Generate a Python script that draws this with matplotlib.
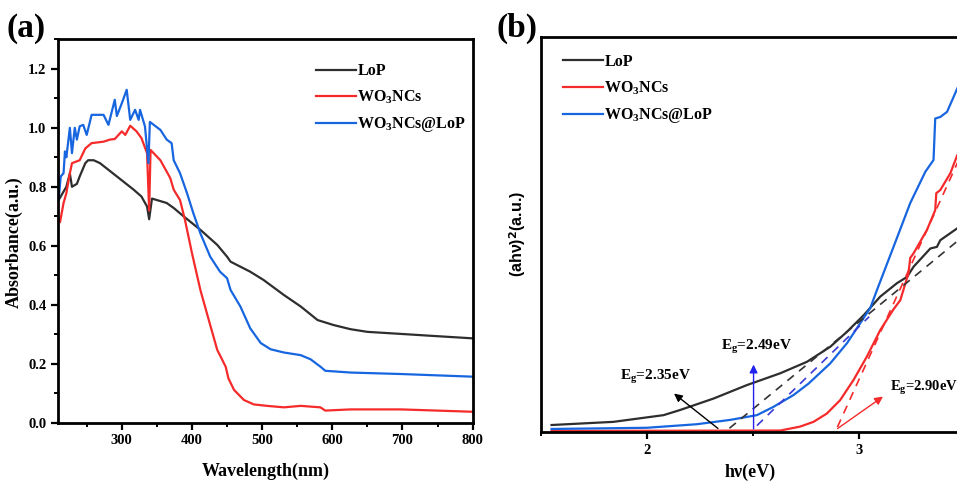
import matplotlib
matplotlib.use("Agg")
import matplotlib.pyplot as plt
from matplotlib.ticker import MultipleLocator
import numpy as np

plt.rcParams['font.family'] = ['Liberation Serif', 'DejaVu Serif']
plt.rcParams['font.weight'] = 'bold'
plt.rcParams['mathtext.fontset'] = 'custom'
plt.rcParams['mathtext.rm'] = 'Liberation Serif:bold'
plt.rcParams['mathtext.it'] = 'Liberation Serif:bold'
plt.rcParams['mathtext.bf'] = 'Liberation Serif:bold'

# ---- panel (a): UV-vis absorbance ----
lop_wl = [210, 221, 226, 229, 236, 240, 248, 252, 260, 269, 293, 317, 328, 336, 339, 343,
          364, 374, 388, 412, 436, 450, 455, 483, 502, 531, 555, 579, 602, 626, 650, 698, 745, 800]
lop_abs = [0.755, 0.80, 0.845, 0.80, 0.81, 0.835, 0.88, 0.89, 0.89, 0.88, 0.835, 0.79, 0.767, 0.733, 0.69, 0.76,
           0.745, 0.728, 0.70, 0.654, 0.603, 0.563, 0.546, 0.512, 0.484, 0.433, 0.394, 0.348, 0.331, 0.317, 0.308, 0.301, 0.294, 0.286]

wo3_wl = [210, 212, 217, 221, 226, 229, 240, 248, 257, 274, 283, 290, 300, 305, 312, 321, 328, 336, 339, 341,
          355, 369, 374, 383, 390, 400, 412, 424, 436, 448, 452, 460, 474, 488, 507, 531, 555, 583, 590, 626, 698, 800]
wo3_abs = [0.688, 0.68, 0.745, 0.778, 0.846, 0.88, 0.89, 0.93, 0.948, 0.953, 0.96, 0.962, 0.988, 0.976, 1.007, 0.988, 0.965, 0.914, 0.72, 0.925,
           0.89, 0.83, 0.79, 0.755, 0.688, 0.575, 0.45, 0.348, 0.247, 0.19, 0.15, 0.111, 0.077, 0.062, 0.057, 0.052, 0.057, 0.052, 0.041, 0.045, 0.045, 0.037]

comp_wl = [210, 213, 217, 219, 221, 226, 229, 233, 236, 240, 245, 250, 257, 274, 281, 290, 293, 300, 307, 312,
           319, 324, 326, 333, 338, 340, 355, 364, 371, 374, 383, 393, 402, 412, 426, 440, 450, 455, 469, 483,
           498, 512, 531, 555, 569, 583, 590, 626, 698, 800]
comp_abs = [0.755, 0.835, 0.846, 0.92, 0.90, 1.0, 0.914, 1.0, 0.96, 1.005, 1.01, 0.976, 1.044, 1.044, 1.01, 1.095, 1.04, 1.083, 1.129, 1.027,
            1.061, 1.027, 1.061, 1.005, 0.88, 1.02, 0.993, 0.96, 0.948, 0.89, 0.846, 0.778, 0.71, 0.642, 0.563, 0.512, 0.49, 0.45, 0.394, 0.32,
            0.27, 0.249, 0.238, 0.229, 0.215, 0.19, 0.176, 0.17, 0.165, 0.156]

# ---- panel (b): Tauc plot ----
lop_ev = [1.55, 1.842, 2.079, 2.157, 2.315, 2.472, 2.63, 2.756, 2.866, 2.945, 3.024, 3.102, 3.181, 3.229, 3.26, 3.339, 3.37, 3.386, 3.466]
lop_tauc = [1.7, 2.5, 4.2, 5.5, 8.4, 11.8, 14.8, 17.7, 21.5, 25.3, 29.5, 34.2, 37.6, 39.2, 41.8, 46.4, 46.8, 48.5, 51.5]

wo3_ev = [1.55, 2.63, 2.724, 2.787, 2.85, 2.913, 2.976, 3.039, 3.102, 3.165, 3.197, 3.236, 3.244, 3.26, 3.323,
          3.362, 3.367, 3.386, 3.433, 3.466]
wo3_tauc = [0.2, 0.3, 1.3, 2.5, 4.6, 8.0, 13.1, 19.0, 25.7, 31.0, 33.3, 40.2, 44.0, 45.2, 51.1,
            56.1, 60.4, 61.2, 65.4, 70.0]

comp_ev = [1.55, 2.0, 2.236, 2.394, 2.52, 2.598, 2.693, 2.764, 2.866, 2.945, 3.055, 3.087, 3.165, 3.244, 3.315,
           3.354, 3.362, 3.386, 3.418, 3.466]
comp_tauc = [0.7, 1.0, 1.9, 3.0, 4.2, 6.3, 9.3, 12.2, 17.3, 22.4, 31.3, 35.9, 46.8, 57.9, 65.8,
             68.8, 79.3, 79.7, 81.0, 86.9]

# tangent lines: (Eg intercept, slope, x start, x end)
fit_lop = (2.37, 44, 2.39, 3.6)
fit_comp = (2.49, 52, 2.52, 3.05)
fit_wo3 = (2.89, 118, 2.90, 3.6)

c_k = '#2e2e2e'
c_r = '#f52a2a'
c_b = '#1766e0'

fig = plt.figure(figsize=(9.57, 4.84), dpi=100)

ax1 = fig.add_axes([0.0609, 0.1267, 0.433, 0.792])
ax1.plot(lop_wl, lop_abs, color=c_k, lw=1.6, label='LoP')
ax1.plot(wo3_wl, wo3_abs, color=c_r, lw=1.6, label='WO$_3$NCs')
ax1.plot(comp_wl, comp_abs, color=c_b, lw=1.6, label='WO$_3$NCs@LoP')
ax1.set_xlim(209.5, 800)
ax1.set_ylim(0, 1.3)
ax1.xaxis.set_major_locator(MultipleLocator(100))
ax1.xaxis.set_minor_locator(MultipleLocator(50))
ax1.yaxis.set_minor_locator(MultipleLocator(0.1))
ax1.set_yticks(np.arange(0, 1.21, 0.2))
ax1.set_yticklabels(['%.1f' % v for v in np.arange(0, 1.21, 0.2)])
ax1.set_xlabel('Wavelength(nm)', fontsize=13, fontweight='bold', va='top')
ax1.xaxis.set_label_coords(0.5, -0.105)
ax1.set_ylabel('Absorbance(a.u.)', fontsize=13, fontweight='bold')
ax1.yaxis.set_label_coords(-0.085, 0.47)
ax1.legend(loc='center left', bbox_to_anchor=(0.602, 0.845), frameon=False, fontsize=11.5,
           handlelength=2.5, handletextpad=0.1, borderpad=0, labelspacing=0.58)
ax1.text(-0.125, 1.006, '(a)', transform=ax1.transAxes, fontsize=24, fontweight='bold', va='baseline', ha='left')

ax2 = fig.add_axes([0.5653, 0.108, 0.4646, 0.816])
ax2.plot(lop_ev, lop_tauc, color=c_k, lw=1.6, label='LoP')
ax2.plot(wo3_ev, wo3_tauc, color=c_r, lw=1.6, label='WO$_3$NCs')
ax2.plot(comp_ev, comp_tauc, color=c_b, lw=1.6, label='WO$_3$NCs@LoP')
for (eg, k, x0, x1), col in [(fit_lop, '#333333'), (fit_comp, '#3a3ad8'), (fit_wo3, c_r)]:
    xs = np.array([x0, x1])
    ax2.plot(xs, k * (xs - eg), color=col, lw=1.2, ls=(0, (5, 4)))
ax2.annotate('', xy=(2.118, 10.1), xytext=(2.346, 0.4),
             arrowprops=dict(arrowstyle='-|>', color='black', lw=1, mutation_scale=12))
ax2.annotate('', xy=(2.504, 17.7), xytext=(2.504, 0.0),
             arrowprops=dict(arrowstyle='-|>', color='#2020ee', lw=1, mutation_scale=12))
ax2.annotate('', xy=(3.126, 9.3), xytext=(2.89, 0.4),
             arrowprops=dict(arrowstyle='-|>', color=c_r, lw=1, mutation_scale=12))
ax2.text(2.039, 13.9, 'E$_g$=2.35eV', fontsize=11, ha='center', va='center')
ax2.text(2.519, 21.5, 'E$_g$=2.49eV', fontsize=11, ha='center', va='center')
ax2.text(3.15, 11.0, 'E$_g$=2.90eV', fontsize=10.5, ha='left', va='center')
ax2.set_xlim(1.5, 3.6)
ax2.set_ylim(0, 100)
ax2.xaxis.set_major_locator(MultipleLocator(1))
ax2.xaxis.set_minor_locator(MultipleLocator(0.5))
ax2.set_yticks([])
ax2.set_xlabel('hν(eV)', fontsize=13, fontweight='bold', va='top')
ax2.xaxis.set_label_coords(0.47, -0.082)
ax2.set_ylabel('(ahν)$^\\mathsf{2}$(a.u.)', fontsize=11.5, fontweight='bold', family=['Liberation Sans', 'DejaVu Sans'])
ax2.yaxis.set_label_coords(-0.03, 0.5)
ax2.legend(loc='center left', bbox_to_anchor=(0.031, 0.866), frameon=False, fontsize=11.5,
           handlelength=2.5, handletextpad=0.1, borderpad=0, labelspacing=0.6)
ax2.text(-0.1, 1.0, '(b)', transform=ax2.transAxes, fontsize=24, fontweight='bold', va='baseline', ha='left')

for ax in (ax1, ax2):
    for s in ax.spines.values():
        s.set_linewidth(2)
    ax.tick_params(which='major', direction='out', length=5, width=1.6, labelsize=10.5, top=False, right=False)
    ax.tick_params(which='minor', direction='out', length=3, width=1.4, top=False, right=False)
    for lab in ax.get_xticklabels() + ax.get_yticklabels():
        lab.set_fontweight('bold')

fig.savefig('out.png', dpi=100)
